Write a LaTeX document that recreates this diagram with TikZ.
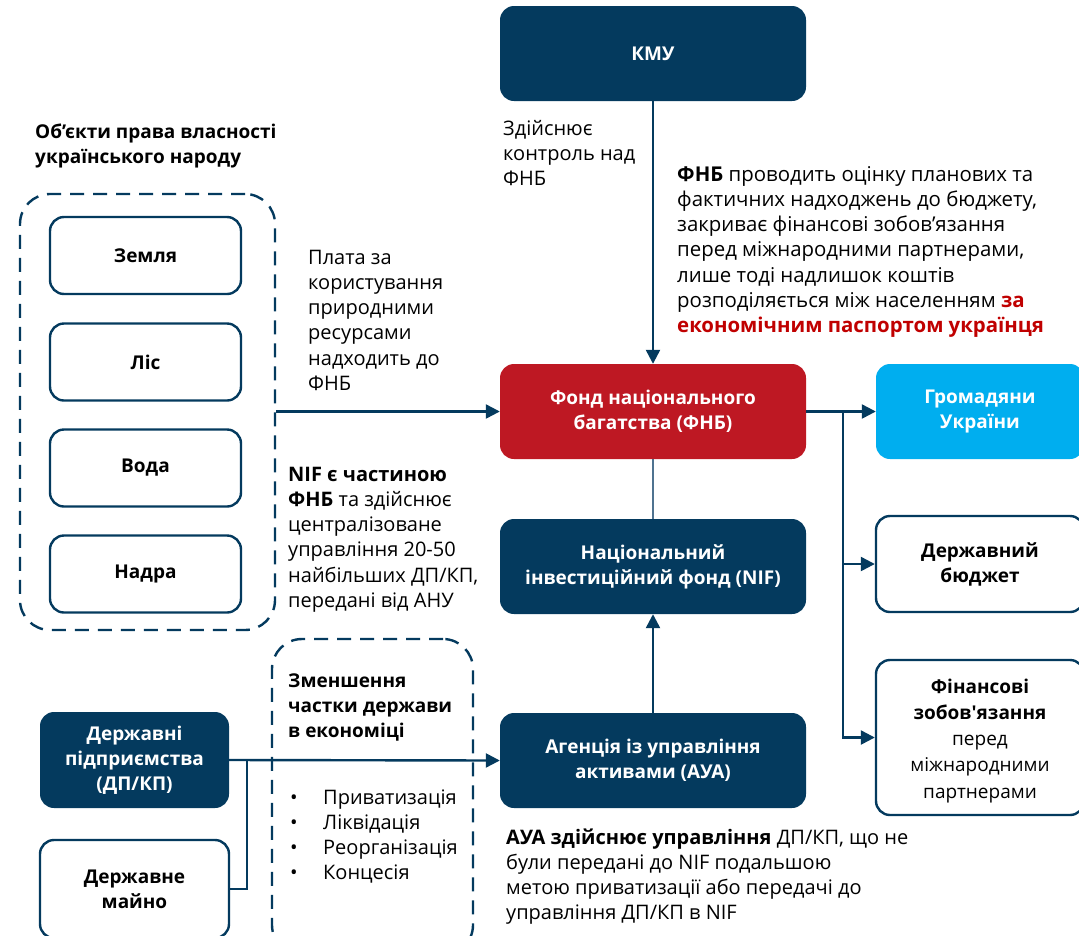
\documentclass[tikz,border=0pt]{standalone}
\usepackage{fontspec}
\setmainfont{Open Sans}
\usetikzlibrary{arrows.meta}
\definecolor{navy}{HTML}{043A5E}
\definecolor{fnbred}{HTML}{BE1823}
\definecolor{lblue}{HTML}{00AEEF}
\definecolor{txtred}{HTML}{C00000}
\definecolor{thinline}{HTML}{4F7390}
\begin{document}
\begin{tikzpicture}[x=1pt,y=-1pt,
  box/.style={rounded corners=14pt, minimum width=306pt, minimum height=95pt, align=center,
    font=\bfseries\fontsize{19}{25}\selectfont, inner sep=0pt},
  darkbox/.style={box, fill=navy, text=white},
  redbox/.style={box, fill=fnbred, text=white},
  bluebox/.style={box, fill=lblue, text=white, minimum width=208pt},
  whitebox/.style={box, draw=navy, line width=2.4pt, fill=white, text=black, minimum width=208pt},
  itembox/.style={box, draw=navy, line width=2.4pt, text=black, minimum width=191pt, minimum height=77pt},
  dashbox/.style={draw=navy, line width=2.4pt, rounded corners=30pt, dash pattern=on 14pt off 9pt, inner sep=0pt},
  txt/.style={anchor=base west, align=left, inner sep=0pt, font=\fontsize{20}{25.3}\selectfont},
  conn/.style={draw=navy, line width=2.4pt},
  arr/.style={conn, -{Triangle[length=14pt,width=14pt]}},
]
\useasboundingbox (0,0) rectangle (1079,935);
\clip (0,0) rectangle (1079,935);

% containers
\node[dashbox, minimum width=255pt, minimum height=436pt] (cont1) at (147.5,412) {};
\node[dashbox, minimum width=201pt, minimum height=316pt] (cont2) at (372.5,797) {};

% left items
\node[itembox] (zem) at (145.5,255.5) {Земля};
\node[itembox] (lis) at (145.5,362) {Ліс};
\node[itembox] (voda) at (145.5,468) {Вода};
\node[itembox] (nadra) at (145.5,574) {Надра};

% central boxes
\node[darkbox] (kmu) at (653,53.5) {КМУ};
\node[redbox] (fnb) at (653,411.5) {Фонд національного\\багатства (ФНБ)};
\node[darkbox] (nif) at (653,566.5) {Національний\\інвестиційний фонд (NIF)};
\node[darkbox] (aua) at (653,760.5) {Агенція із управління\\активами (АУА)};

% right boxes
\node[bluebox] (gr) at (980,411.5) {Громадяни\\України};
\node[whitebox, minimum height=96pt] (db) at (980,564) {Державний\\бюджет};
\node[whitebox, minimum height=155pt, font=\fontsize{19}{26.2}\selectfont] (fz) at (980,737.5)
  {\rule{0pt}{21pt}\textbf{Фінансові}\\\textbf{зобов\textquotesingle язання}\\перед\\міжнародними\\партнерами};

% bottom-left boxes
\node[darkbox, minimum width=189pt, minimum height=96pt] (dp) at (134.5,760) {Державні\\підприємства\\(ДП/КП)};
\node[whitebox, minimum width=189pt, minimum height=98pt] (dm) at (134.5,889) {Державне\\майно};

% texts (base = baseline of last line)
\node[txt, font=\bfseries\fontsize{19}{25.3}\selectfont] (t1) at (35,163.3) {Об’єкти права власності\\українського народу};
\node[txt] (t2) at (503,185.6) {Здійснює\\контроль над\\ФНБ};
\node[txt, font=\fontsize{20.4}{25.3}\selectfont] (t3) at (677,332.8) {\textbf{ФНБ} проводить оцінку планових та\\фактичних надходжень до бюджету,\\закриває фінансові зобов’язання\\перед міжнародними партнерами,\\лише тоді надлишок коштів\\розподіляється між населенням \textbf{\color{txtred}за}\\\textbf{\color{txtred}економічним паспортом українця}};
\node[txt] (t4) at (308,390.5) {Плата за\\користування\\природними\\ресурсами\\надходить до\\ФНБ};
\node[txt] (t5) at (288,607.5) {\textbf{NIF є частиною}\\\textbf{ФНБ} та здійснює\\централізоване\\управління 20-50\\найбільших ДП/КП,\\передані від АНУ};
\node[txt, font=\bfseries\fontsize{19}{25.3}\selectfont] (t6) at (288,737.6) {Зменшення\\частки держави\\в економіці};
\node[txt] (t7) at (290,879.9) {•\\•\\•\\•};
\node[txt] (t8) at (323,879.9) {Приватизація\\Ліквідація\\Реорганізація\\Концесія};
\node[txt] (t9) at (506,919.9) {\textbf{АУА здійснює управління} ДП/КП, що не\\були передані до NIF подальшою\\метою приватизації або передачі до\\управління ДП/КП в NIF};

% connectors
\draw[arr] (kmu.south) -- (fnb.north);
\draw[arr] (cont1.east |- fnb.west) -- (fnb.west);
\draw[draw=thinline, line width=1.6pt] (fnb.south) -- (nif.north);
\draw[arr] (aua.north) -- (nif.south);
\draw[arr] (fnb.east) -- (gr.west);
\coordinate (br) at (843,411.5);
\draw[arr] (br) |- (fz.west);
\draw[arr] (br |- db.west) -- (db.west);
\draw[arr] (dp.east) -- (aua.west);
\coordinate (jn) at (247,760);
\draw[conn] (dm.east) -| (jn);
\end{tikzpicture}
\end{document}
